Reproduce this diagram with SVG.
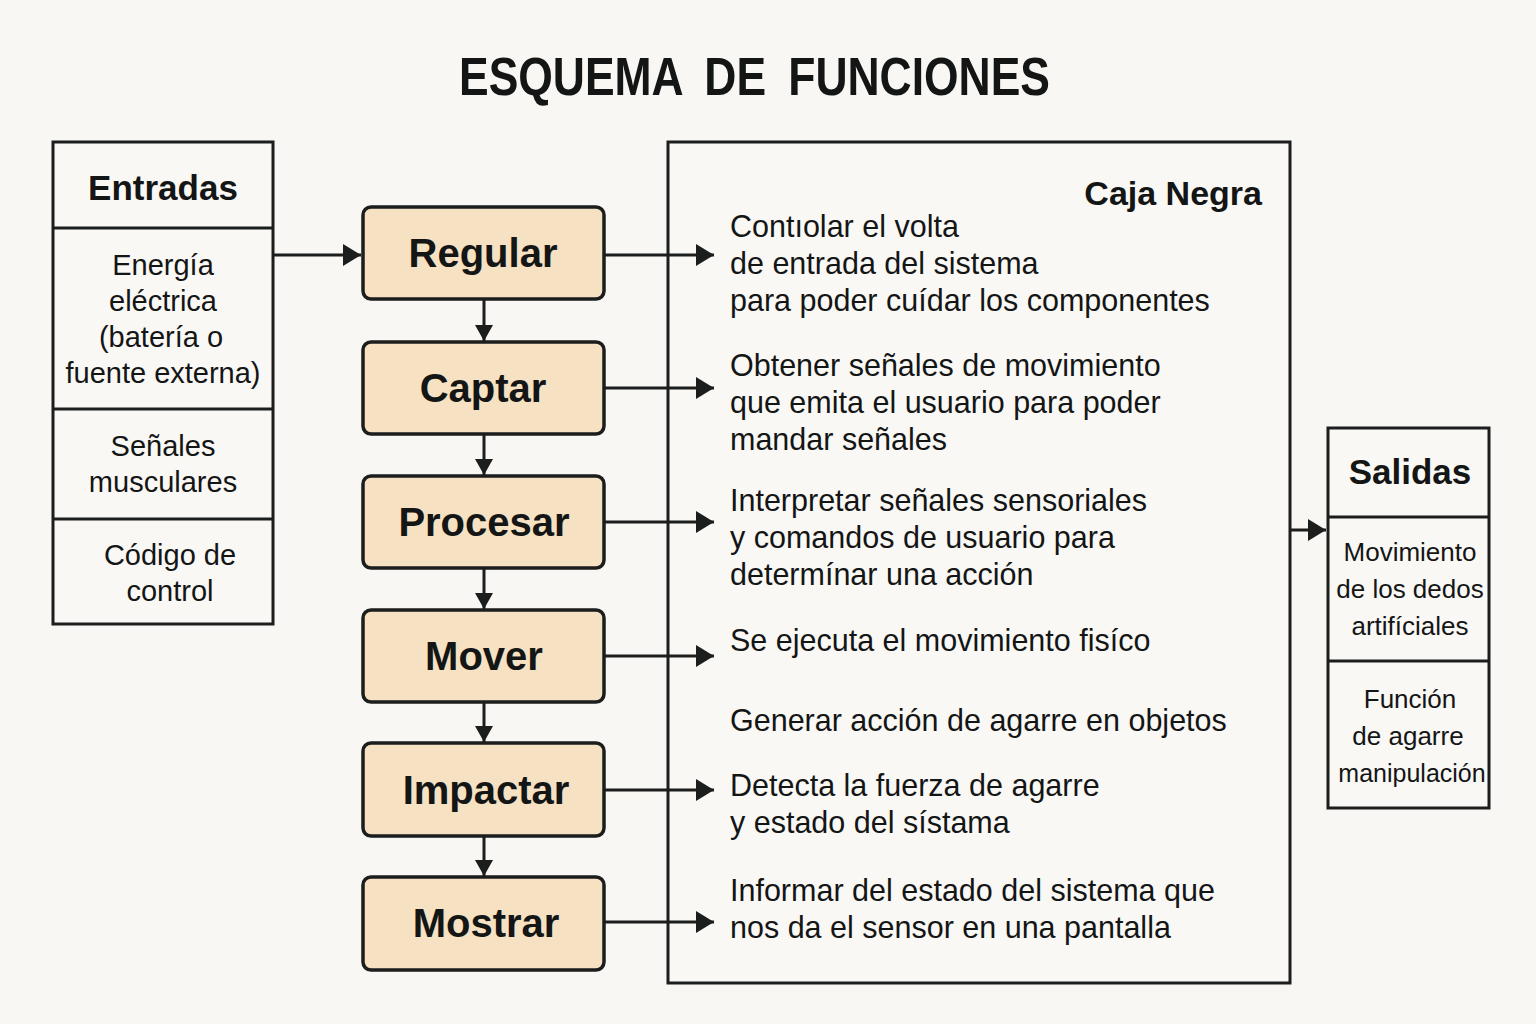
<svg xmlns="http://www.w3.org/2000/svg" width="1536" height="1024" viewBox="0 0 1536 1024">
<style>
.bg{fill:#f8f7f3}
.box{fill:#f9f8f5;stroke:#1c1d1d;stroke-width:3}
.proc{fill:#f6e1c3;stroke:#1c1d1d;stroke-width:3.5}
.ln{stroke:#1c1d1d;stroke-width:3;fill:none}
.t{font-family:"Liberation Sans",Arial,sans-serif;fill:#141515}
.ti{font-weight:bold;font-size:54px;word-spacing:12px}
.h{font-weight:bold;font-size:35px;text-anchor:middle}
.p{font-weight:bold;font-size:40px;text-anchor:middle}
.c{font-size:29px;text-anchor:middle}
.d{font-size:30.5px}
.s{font-size:26px;text-anchor:middle}
</style>
<defs>
<marker id="ah" markerUnits="userSpaceOnUse" markerWidth="20" markerHeight="22" refX="18" refY="11" orient="auto">
<path d="M0,0 L18,11 L0,22 Z" fill="#1c1d1d"/>
</marker>
<marker id="ahs" markerUnits="userSpaceOnUse" markerWidth="20" markerHeight="18" refX="16" refY="9" orient="auto">
<path d="M0,0 L16,9 L0,18 Z" fill="#1c1d1d"/>
</marker>
</defs>
<rect class="bg" x="0" y="0" width="1536" height="1024"/>
<g id="title">
<text class="t ti" x="459" y="95" textLength="591" lengthAdjust="spacingAndGlyphs">ESQUEMA DE FUNCIONES</text>
</g>

<g id="entradas">
<rect class="box" x="53" y="142" width="220" height="482"/>
<line class="ln" x1="53" y1="228" x2="273" y2="228"/>
<line class="ln" x1="53" y1="409" x2="273" y2="409"/>
<line class="ln" x1="53" y1="519" x2="273" y2="519"/>
<text class="t h" x="163" y="200">Entradas</text>
<text class="t c" x="163" y="275">Energía</text>
<text class="t c" x="163" y="311">eléctrica</text>
<text class="t c" x="161" y="347">(batería o</text>
<text class="t c" x="163" y="383">fuente externa)</text>
<text class="t c" x="163" y="456">Señales</text>
<text class="t c" x="163" y="492">musculares</text>
<text class="t c" x="170" y="565">Código de</text>
<text class="t c" x="170" y="601">control</text>
</g>

<g id="caja-negra">
<rect class="box" x="668" y="142" width="622" height="841"/>
<text class="t" x="1262" y="205" font-size="34" font-weight="bold" text-anchor="end">Caja Negra</text>
<text class="t d" x="730" y="237">Contıolar el volta</text>
<text class="t d" x="730" y="274">de entrada del sistema</text>
<text class="t d" x="730" y="311">para poder cuídar los componentes</text>
<text class="t d" x="730" y="376">Obtener señales de movimiento</text>
<text class="t d" x="730" y="413">que emita el usuario para poder</text>
<text class="t d" x="730" y="450">mandar señales</text>
<text class="t d" x="730" y="511">Interpretar señales sensoriales</text>
<text class="t d" x="730" y="548">y comandos de usuario para</text>
<text class="t d" x="730" y="585">determínar una acción</text>
<text class="t d" x="730" y="651">Se ejecuta el movimiento fisíco</text>
<text class="t d" x="730" y="731">Generar acción de agarre en objetos</text>
<text class="t d" x="730" y="796">Detecta la fuerza de agarre</text>
<text class="t d" x="730" y="833">y estado del sístama</text>
<text class="t d" x="730" y="901">Informar del estado del sistema que</text>
<text class="t d" x="730" y="938">nos da el sensor en una pantalla</text>
</g>

<g id="regular"><rect class="proc" x="363" y="207" width="241" height="92" rx="8"/><text class="t p" x="483" y="267">Regular</text></g>
<g id="captar"><rect class="proc" x="363" y="342" width="241" height="92" rx="8"/><text class="t p" x="483" y="402">Captar</text></g>
<g id="procesar"><rect class="proc" x="363" y="476" width="241" height="92" rx="8"/><text class="t p" x="484" y="536">Procesar</text></g>
<g id="mover"><rect class="proc" x="363" y="610" width="241" height="92" rx="8"/><text class="t p" x="484" y="670">Mover</text></g>
<g id="impactar"><rect class="proc" x="363" y="743" width="241" height="93" rx="8"/><text class="t p" x="486" y="804">Impactar</text></g>
<g id="mostrar"><rect class="proc" x="363" y="877" width="241" height="93" rx="8"/><text class="t p" x="486" y="937">Mostrar</text></g>

<g id="salidas">
<rect class="box" x="1328" y="428" width="161" height="380"/>
<line class="ln" x1="1328" y1="517" x2="1489" y2="517"/>
<line class="ln" x1="1328" y1="661" x2="1489" y2="661"/>
<text class="t h" x="1410" y="484">Salidas</text>
<text class="t s" x="1410" y="561">Movimiento</text>
<text class="t s" x="1410" y="598">de los dedos</text>
<text class="t s" x="1410" y="635">artifíciales</text>
<text class="t s" x="1410" y="708">Función</text>
<text class="t s" x="1408" y="745">de agarre</text>
<text class="t" x="1412" y="782" font-size="25" text-anchor="middle">manipulación</text>
</g>

<g id="connectors">
<line class="ln" x1="273" y1="255" x2="361" y2="255" marker-end="url(#ah)"/>
<line class="ln" x1="484" y1="299" x2="484" y2="341" marker-end="url(#ahs)"/>
<line class="ln" x1="484" y1="434" x2="484" y2="475" marker-end="url(#ahs)"/>
<line class="ln" x1="484" y1="568" x2="484" y2="609" marker-end="url(#ahs)"/>
<line class="ln" x1="484" y1="702" x2="484" y2="742" marker-end="url(#ahs)"/>
<line class="ln" x1="484" y1="836" x2="484" y2="876" marker-end="url(#ahs)"/>
<line class="ln" x1="604" y1="255" x2="714" y2="255" marker-end="url(#ah)"/>
<line class="ln" x1="604" y1="388" x2="714" y2="388" marker-end="url(#ah)"/>
<line class="ln" x1="604" y1="522" x2="714" y2="522" marker-end="url(#ah)"/>
<line class="ln" x1="604" y1="656" x2="714" y2="656" marker-end="url(#ah)"/>
<line class="ln" x1="604" y1="790" x2="714" y2="790" marker-end="url(#ah)"/>
<line class="ln" x1="604" y1="922" x2="714" y2="922" marker-end="url(#ah)"/>
<line class="ln" x1="1290" y1="530" x2="1326" y2="530" marker-end="url(#ah)"/>
</g>
</svg>
